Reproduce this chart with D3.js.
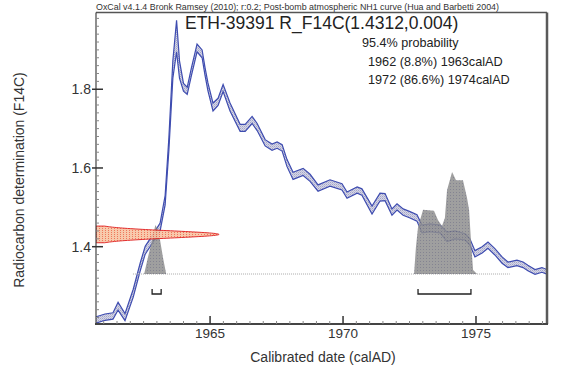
<!DOCTYPE html>
<html><head><meta charset="utf-8">
<script src="https://cdn.jsdelivr.net/npm/d3@7/dist/d3.min.js"></script>
<style>body{margin:0;background:#fff}svg{display:block}text{font-family:"Liberation Sans",Arial,sans-serif}</style>
</head><body><svg id="c" width="575" height="379"></svg>
<script>
// ---------- data ----------
const creditText = "OxCal v4.1.4 Bronk Ramsey (2010); r:0.2; Post-bomb atmospheric NH1 curve (Hua and Barbetti 2004)";
const sampleName = "ETH-39391 R_F14C(1.4312,0.004)";
const measMean = 1.4312;
const measSd = 0.004;
const probLabel = "95.4% probability";
const rangeLabels = ["1962 (8.8%) 1963calAD", "1972 (86.6%) 1974calAD"];
const rangeBrackets = [[1962.82, 1963.16], [1972.82, 1974.81]];
const calibExtent = [1962.1, 1976.27];
const xTicks = [1965, 1970, 1975];
const yTicks = [1.4, 1.6, 1.8];
const xLabel = "Calibrated date (calAD)";
const yLabel = "Radiocarbon determination (F14C)";

const curveYear = [1960.71,1961.05,1961.35,1961.54,1961.80,1962.11,1962.37,1962.56,1962.86,1963.12,1963.31,1963.45,1963.60,1963.74,1963.85,1964.00,1964.14,1964.30,1964.51,1964.70,1964.81,1964.92,1965.11,1965.30,1965.49,1965.75,1966.13,1966.32,1966.58,1966.77,1967.07,1967.33,1967.52,1967.71,1967.89,1968.12,1968.50,1968.76,1969.06,1969.51,1969.96,1970.15,1970.53,1970.71,1971.09,1971.39,1971.58,1971.84,1972.03,1972.26,1972.52,1972.78,1972.97,1973.27,1973.65,1973.91,1974.21,1974.59,1974.77,1974.96,1975.23,1975.45,1975.71,1975.98,1976.20,1976.54,1976.77,1976.95,1977.22,1977.48,1977.67];
const curveF14C = [1.214,1.221,1.224,1.249,1.221,1.282,1.348,1.391,1.422,1.450,1.518,1.660,1.850,1.935,1.850,1.805,1.796,1.845,1.905,1.890,1.845,1.806,1.755,1.768,1.803,1.755,1.702,1.702,1.722,1.704,1.664,1.653,1.658,1.651,1.613,1.580,1.590,1.575,1.549,1.562,1.552,1.531,1.544,1.539,1.493,1.526,1.526,1.488,1.501,1.488,1.481,1.473,1.445,1.448,1.445,1.425,1.430,1.425,1.412,1.382,1.392,1.404,1.387,1.366,1.354,1.359,1.354,1.346,1.336,1.341,1.336];
const curveSd = [0.008,0.008,0.008,0.010,0.009,0.010,0.010,0.010,0.010,0.010,0.012,0.016,0.022,0.040,0.022,0.010,0.009,0.010,0.010,0.010,0.010,0.010,0.010,0.009,0.009,0.010,0.009,0.009,0.009,0.009,0.008,0.008,0.008,0.008,0.009,0.009,0.009,0.009,0.008,0.008,0.008,0.008,0.008,0.008,0.010,0.010,0.009,0.008,0.008,0.008,0.008,0.008,0.010,0.010,0.010,0.012,0.010,0.008,0.008,0.008,0.008,0.008,0.008,0.008,0.007,0.007,0.007,0.007,0.006,0.006,0.006];

// calibrated probability (relative)
const hist1Year = [1962.52,1962.66,1962.77,1962.86,1962.94,1963.01,1963.12,1963.23,1963.35];
const hist1Prob = [0,0.16,0.28,0.38,0.48,0.45,0.33,0.16,0];
const hist2Year = [1972.67,1972.74,1972.82,1973.01,1973.42,1973.57,1973.72,1973.83,1973.91,1974.10,1974.25,1974.51,1974.66,1974.74,1974.81,1974.89,1975.04];
const hist2Prob = [0,0.26,0.46,0.63,0.62,0.53,0.47,0.55,0.82,1.0,0.92,0.92,0.75,0.63,0.33,0.04,0];

// ---------- layout ----------
const L = 96, R = 547, T = 12.5, B = 324;
const svg = d3.select("#c");
const x = d3.scaleLinear().domain([1960.71, 1977.67]).range([L, R]);
const y = d3.scaleLinear().domain([1.2036, 1.995]).range([B, T]);
const histBaseY = 274, histH = 102;
const h = d3.scaleLinear().domain([0, 1]).range([histBaseY, histBaseY - histH]);

const defs = svg.append("defs");
defs.append("clipPath").attr("id","clip").append("rect").attr("x",L).attr("y",T).attr("width",R-L).attr("height",B-T);
const pat = defs.append("pattern").attr("id","band").attr("width",2).attr("height",2).attr("patternUnits","userSpaceOnUse");
pat.append("rect").attr("width",2).attr("height",2).attr("fill","#d6d6e6");
pat.append("rect").attr("width",1).attr("height",1).attr("fill","#a4a6c8");
pat.append("rect").attr("x",1).attr("y",1).attr("width",1).attr("height",1).attr("fill","#bcbed6");
const pat2 = defs.append("pattern").attr("id","hist").attr("width",3).attr("height",3).attr("patternUnits","userSpaceOnUse");
pat2.append("rect").attr("width",3).attr("height",3).attr("fill","#8e8e8e");
pat2.append("rect").attr("width",1).attr("height",1).attr("fill","#6e6e7e");
const pat3 = defs.append("pattern").attr("id","red").attr("width",3).attr("height",2).attr("patternUnits","userSpaceOnUse");
pat3.append("rect").attr("width",3).attr("height",2).attr("fill","#f8c4a4");
pat3.append("rect").attr("width",1).attr("height",1).attr("fill","#ee6a4a");

const g = svg.append("g").attr("clip-path","url(#clip)");

// calibration curve band
const curve = curveYear.map((yr,i)=>({yr, m:curveF14C[i], s:curveSd[i]}));
g.append("path").datum(curve)
  .attr("d", d3.area().x(d=>x(d.yr)).y0(d=>y(d.m-d.s)).y1(d=>y(d.m+d.s)))
  .attr("fill","url(#band)");
[1,-1].forEach(sg=>{
  g.append("path").datum(curve)
   .attr("d", d3.line().x(d=>x(d.yr)).y(d=>y(d.m+sg*d.s)))
   .attr("fill","none").attr("stroke","#3e4cb0").attr("stroke-width",1.2);
});

// dotted baseline for calibrated distribution
g.append("line").attr("x1",x(calibExtent[0])).attr("x2",x(calibExtent[1]))
  .attr("y1",histBaseY).attr("y2",histBaseY)
  .attr("stroke","#aaaaaa").attr("stroke-width",1).attr("stroke-dasharray","1,1");

// histograms
[[hist1Year,hist1Prob],[hist2Year,hist2Prob]].forEach(([ys,ps])=>{
  const pts = ys.map((yr,i)=>[yr,ps[i]]);
  g.append("path").datum(pts)
   .attr("d", d3.area().x(d=>x(d[0])).y0(histBaseY).y1(d=>h(d[1])))
   .attr("fill","url(#hist)").attr("opacity",0.85);
});

// measurement distribution on the y axis
const spread = 2.3, nS = 2.3, tipLen = 123;
const dpts = d3.range(-nS, nS + 0.001, 0.05).map(k=>[
  L + tipLen*Math.exp(-k*k/2), y(measMean + k*measSd*spread)]);
const poly = [[L, dpts[0][1]], ...dpts, [L, dpts[dpts.length-1][1]]];
g.append("path").attr("d", d3.line()(poly)+"Z")
  .attr("fill","url(#red)").attr("stroke","#e01818").attr("stroke-width",1).attr("opacity",0.9);

// range brackets
rangeBrackets.forEach(([a,b])=>{
  svg.append("path").attr("d",`M${x(a)},289V294H${x(b)}V289`)
    .attr("fill","none").attr("stroke","#222").attr("stroke-width",1.3);
});

// frame
svg.append("line").attr("x1",L).attr("x2",R).attr("y1",T).attr("y2",T).attr("stroke","#555").attr("stroke-width",1.5);
svg.append("line").attr("x1",R).attr("x2",R).attr("y1",T).attr("y2",B).attr("stroke","#5a5a5a").attr("stroke-width",2.5);
svg.append("line").attr("x1",L).attr("x2",L).attr("y1",T).attr("y2",B).attr("stroke","#444").attr("stroke-width",1.2);
svg.append("line").attr("x1",L-1).attr("x2",R+1).attr("y1",B).attr("y2",B).attr("stroke","#444").attr("stroke-width",2.2);

// x ticks
const xMinor = d3.range(1961, 1977.6, 0.5).filter(v=>!xTicks.includes(v));
xMinor.forEach(v=>svg.append("line").attr("x1",x(v)).attr("x2",x(v)).attr("y1",B).attr("y2",B-3).attr("stroke","#888").attr("stroke-width",1));
xTicks.forEach(v=>{
  svg.append("line").attr("x1",x(v)).attr("x2",x(v)).attr("y1",B).attr("y2",B-8).attr("stroke","#333").attr("stroke-width",1.5);
  svg.append("text").attr("x",x(v)).attr("y",B+14).attr("text-anchor","middle").attr("font-size",13.5).attr("fill","#333").text(v);
});
// y ticks
const yMinor = d3.range(1.22, 1.99, 0.02).map(v=>+v.toFixed(2)).filter(v=>!yTicks.includes(v));
yMinor.forEach(v=>svg.append("line").attr("x1",L).attr("x2",L+3).attr("y1",y(v)).attr("y2",y(v)).attr("stroke","#888").attr("stroke-width",1));
yTicks.forEach(v=>{
  svg.append("line").attr("x1",L-4).attr("x2",L+7).attr("y1",y(v)).attr("y2",y(v)).attr("stroke","#333").attr("stroke-width",1.5);
  svg.append("text").attr("x",91).attr("y",y(v)+5).attr("text-anchor","end").attr("font-size",14).attr("fill","#333").text(v.toFixed(1));
});

// texts
svg.append("text").attr("x",96).attr("y",9.5).attr("font-size",8.9).attr("fill","#333").text(creditText);
svg.append("text").attr("x",185).attr("y",28.5).attr("font-size",17.5).attr("fill","#222").text(sampleName);
svg.append("text").attr("x",362).attr("y",47.3).attr("font-size",12.6).attr("fill","#222").text(probLabel);
rangeLabels.forEach((t,i)=>svg.append("text").attr("x",368).attr("y",65.7+i*18.3).attr("font-size",12.7).attr("fill","#222").text(t));
svg.append("text").attr("x",323).attr("y",362).attr("text-anchor","middle").attr("font-size",14).attr("fill","#333").text(xLabel);
svg.append("text").attr("transform","translate(24,180) rotate(-90)").attr("text-anchor","middle").attr("font-size",14).attr("fill","#333").text(yLabel);
</script></body></html>
